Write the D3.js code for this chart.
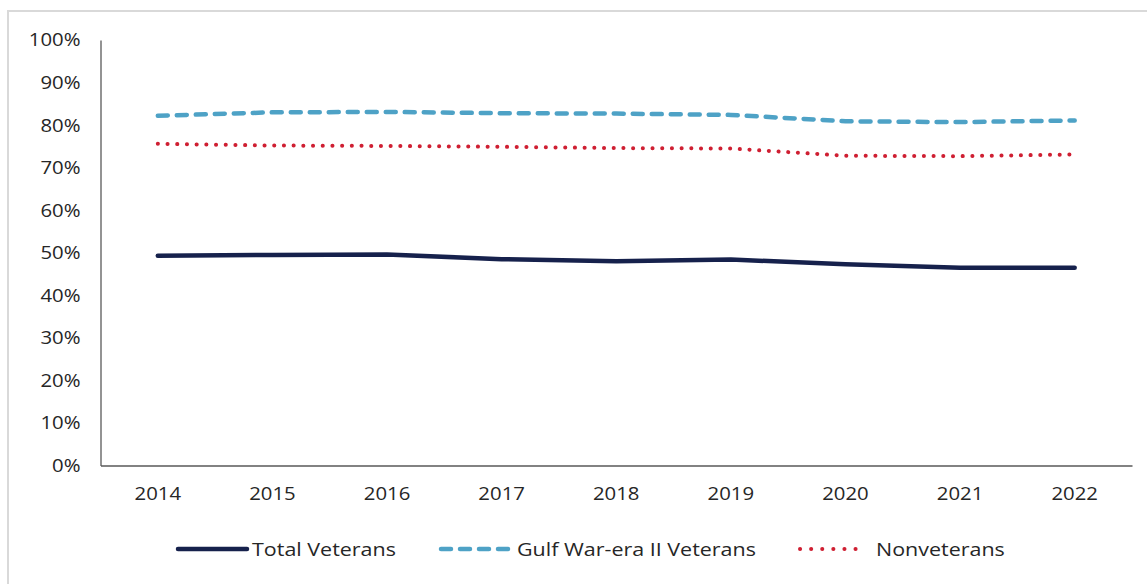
<!DOCTYPE html>
<html>
<head>
<meta charset="utf-8">
<script src="https://cdn.jsdelivr.net/npm/d3@7"></script>
<style>
  html, body { margin: 0; padding: 0; background: #ffffff; }
  svg { display: block; }
  text { font-family: "Open Sans", "Liberation Sans", sans-serif; fill: #262626; }
</style>
</head>
<body>
<svg id="chart" width="1147" height="584"></svg>
<script>
// Share of population by year (percent)
const years = ["2014", "2015", "2016", "2017", "2018", "2019", "2020", "2021", "2022"];
const totalVeterans = [49.3, 49.5, 49.6, 48.5, 48.0, 48.4, 47.3, 46.5, 46.5];
const gulfWarEraII = [82.2, 83.0, 83.1, 82.8, 82.7, 82.4, 80.9, 80.7, 81.1];
const nonveterans  = [75.6, 75.2, 75.1, 74.9, 74.6, 74.5, 72.8, 72.7, 73.1];
const yTicks = [0, 10, 20, 30, 40, 50, 60, 70, 80, 90, 100];

const seriesNames = ["Total Veterans", "Gulf War-era II Veterans", "Nonveterans"];

const series = [
  { name: seriesNames[0], values: totalVeterans, color: "#16214c", width: 4.5, dash: null, cap: "round" },
  { name: seriesNames[1], values: gulfWarEraII, color: "#4ea2c6", width: 4.5, dash: "10,9", cap: "round" },
  { name: seriesNames[2], values: nonveterans,  color: "#cf1f32", width: 4, dash: "0.1,9.6", cap: "round" }
];

const svg = d3.select("#chart");

// widen glyphs horizontally about the text anchor
function stretch(sel, sx) {
  sel.each(function () {
    const t = d3.select(this);
    const ax = +t.attr("x") || 0;
    t.attr("transform", `translate(${ax},0) scale(${sx},1) translate(${-ax},0)`);
  });
}

// outer frame
svg.append("rect")
  .attr("x", 8).attr("y", 11)
  .attr("width", 1160).attr("height", 600)
  .attr("fill", "none")
  .attr("stroke", "#d9d9d9")
  .attr("stroke-width", 2);

const plot = { left: 100.5, right: 1132, top: 40, bottom: 465.5 };

const x = d3.scaleBand().domain(years).range([plot.left, plot.right]).padding(0);
const y = d3.scaleLinear().domain([0, 100]).range([plot.bottom, plot.top]);
const cx = d => x(d) + x.bandwidth() / 2;

// y axis
const yAxis = d3.axisLeft(y).tickValues(yTicks).tickFormat(d => d + "%").tickSize(0).tickPadding(20);
const gy = svg.append("g").attr("transform", `translate(${plot.left},0)`).call(yAxis);
gy.select(".domain").attr("stroke", "#595959").attr("stroke-width", 1.3);
gy.selectAll("text").style("font-size", "18.5px").attr("fill", "#262626").call(stretch, 1.1);

// x axis
const xAxis = d3.axisBottom(x).tickSize(0).tickPadding(21);
const gx = svg.append("g").attr("transform", `translate(0,${plot.bottom})`).call(xAxis);
gx.select(".domain").attr("stroke", "#595959").attr("stroke-width", 1.3);
gx.selectAll("text").style("font-size", "18.5px").attr("fill", "#262626").call(stretch, 1.1);

// series lines
const line = d3.line()
  .x((d, i) => cx(years[i]))
  .y(d => y(d));

series.forEach(s => {
  svg.append("path")
    .datum(s.values)
    .attr("d", line)
    .attr("fill", "none")
    .attr("stroke", s.color)
    .attr("stroke-width", s.width)
    .attr("stroke-linecap", s.cap)
    .attr("stroke-linejoin", "round")
    .attr("stroke-dasharray", s.dash);
});

// legend
const legendY = 549;
const legendItems = [
  { s: series[0], x0: 178, x1: 247, tx: 252 },
  { s: series[1], x0: 441, x1: 511, tx: 517 },
  { s: series[2], x0: 800, x1: 866, tx: 876 }
];
const legend = svg.append("g");
legendItems.forEach(it => {
  legend.append("line")
    .attr("x1", it.x0).attr("x2", it.x1)
    .attr("y1", legendY).attr("y2", legendY)
    .attr("stroke", it.s.color)
    .attr("stroke-width", it.s.width)
    .attr("stroke-linecap", it.s.cap)
    .attr("stroke-dasharray", it.s.name === seriesNames[2] ? "0.1,11" : it.s.dash);
  legend.append("text")
    .attr("x", it.tx).attr("y", legendY)
    .attr("dominant-baseline", "central")
    .style("font-size", "19px")
    .text(it.s.name)
    .call(stretch, 1.13);
});
</script>
</body>
</html>
